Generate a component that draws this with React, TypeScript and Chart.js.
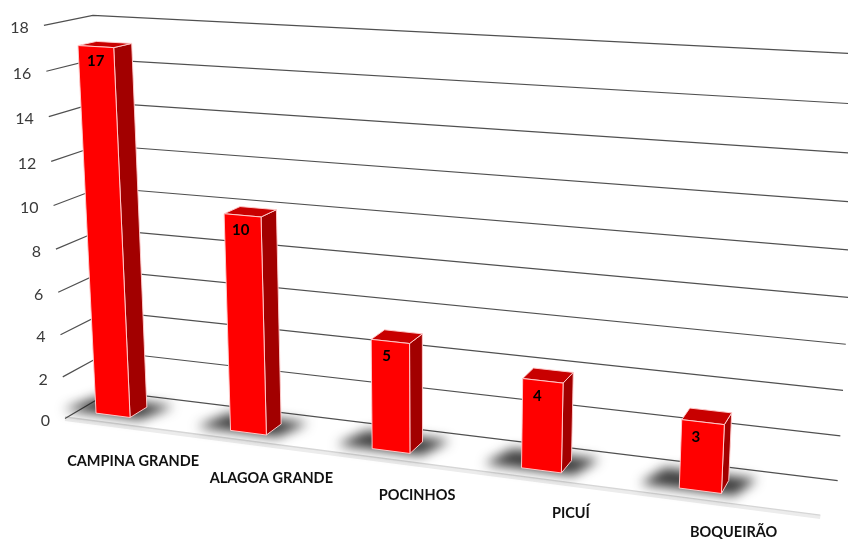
import React, { useEffect, useRef } from 'react';
import { Chart, registerables } from 'chart.js';

Chart.register(...registerables);

// ---- data ----
const categories: string[] = ['CAMPINA GRANDE', 'ALAGOA GRANDE', 'POCINHOS', 'PICUÍ', 'BOQUEIRÃO'];
const values: number[] = [17, 10, 5, 4, 3];
const yMin = 0;
const yMax = 18;
const yStep = 2;

// ---- 3D projection (layout only): world (u = category, v = value, w = depth) -> screen ----
const CAM_X = [129.1, -1.3, 19.3, 113];
const CAM_Y = [6.45, -21.83, -3.2, 415.3];
const CAM_D = [-0.0253, -0.003, 0.0175, 1];
const WALL_LEFT_U = -0.282;
const WALL_RIGHT_U = 4.76;
const FLOOR_FRONT_W = -0.613;
const WALL_BACK_W = 2;
const BAR_DEPTH = 1;

function proj(u: number, v: number, w: number): [number, number] {
  const d = CAM_D[0] * u + CAM_D[1] * v + CAM_D[2] * w + CAM_D[3];
  const x = (CAM_X[0] * u + CAM_X[1] * v + CAM_X[2] * w + CAM_X[3]) / d;
  const y = (CAM_Y[0] * u + CAM_Y[1] * v + CAM_Y[2] * w + CAM_Y[3]) / d;
  return [x, y];
}

function poly(ctx: CanvasRenderingContext2D, pts: [number, number][]) {
  ctx.beginPath();
  pts.forEach((p, i) => (i === 0 ? ctx.moveTo(p[0], p[1]) : ctx.lineTo(p[0], p[1])));
  ctx.closePath();
}

const perspectivePlugin = {
  id: 'perspective3d',
  beforeDatasetsDraw(chart: any) {
    const ctx: CanvasRenderingContext2D = chart.ctx;
    const xs = chart.scales.x;
    const ys = chart.scales.y;
    const x0 = xs.getPixelForValue(0);
    const stepPx = xs.getPixelForValue(1) - x0;
    const toU = (px: number) => (px - x0) / stepPx;
    const toV = (py: number) => ys.getValueForPixel(py);

    ctx.save();

    // floor front edge
    const f0 = proj(WALL_LEFT_U, 0, FLOOR_FRONT_W);
    const f1 = proj(WALL_RIGHT_U - 0.02, 0, FLOOR_FRONT_W);
    ctx.strokeStyle = '#ececec';
    ctx.lineWidth = 4;
    ctx.beginPath();
    ctx.moveTo(f0[0], f0[1] + 2);
    ctx.lineTo(f1[0], f1[1] + 2);
    ctx.stroke();
    ctx.strokeStyle = '#d6d6d6';
    ctx.lineWidth = 1.4;
    ctx.beginPath();
    ctx.moveTo(f0[0], f0[1]);
    ctx.lineTo(f1[0], f1[1]);
    ctx.stroke();

    // gridlines on left wall + back wall, and y tick labels
    let ticks: { value: number }[] = ys.ticks && ys.ticks.length ? ys.ticks : [];
    if (!ticks.length) {
      for (let t = yMin; t <= yMax; t += yStep) ticks.push({ value: t });
    }
    ctx.strokeStyle = '#505050';
    ctx.lineWidth = 1.2;
    ticks.forEach((t) => {
      const v = t.value;
      const a = proj(WALL_LEFT_U, v, FLOOR_FRONT_W);
      const b = proj(WALL_LEFT_U, v, WALL_BACK_W);
      const c = proj(WALL_RIGHT_U, v, WALL_BACK_W);
      ctx.beginPath();
      ctx.moveTo(a[0], a[1] + 1.5);
      ctx.lineTo(b[0], b[1] + 1);
      ctx.lineTo(c[0], c[1]);
      ctx.stroke();
    });
    ctx.fillStyle = '#3a3a3a';
    ctx.font = '16px Lato';
    ctx.textAlign = 'right';
    ctx.textBaseline = 'middle';
    ticks.forEach((t) => {
      const a = proj(WALL_LEFT_U, t.value, FLOOR_FRONT_W);
      ctx.fillText(String(t.value), a[0] - 15, a[1] + 4);
    });

    const meta = chart.getDatasetMeta(0);
    const bars = meta.data.map((el: any) => {
      const u = toU(el.x);
      const h = el.width / stepPx / 2;
      const top = toV(el.y);
      const base = toV(el.base);
      return { u, h, top, base };
    });

    // soft shadows on the floor
    ctx.filter = 'blur(6px)';
    ctx.fillStyle = 'rgba(25,25,25,0.85)';
    bars.forEach((b: any) => {
      poly(ctx, [
        proj(b.u - b.h - 0.24, b.base, -0.05),
        proj(b.u + b.h + 0.08, b.base, -0.05),
        proj(b.u + b.h + 0.16, b.base, BAR_DEPTH + 0.35),
        proj(b.u - b.h - 0.16, b.base, BAR_DEPTH + 0.35),
      ]);
      ctx.fill();
    });
    ctx.filter = 'none';

    // bars
    ctx.lineWidth = 1;
    ctx.strokeStyle = 'rgba(255,205,205,0.95)';
    ctx.lineJoin = 'round';
    bars.forEach((b: any) => {
      const L = b.u - b.h;
      const R = b.u + b.h;
      const side: [number, number][] = [
        proj(R, b.base, 0), proj(R, b.base, BAR_DEPTH), proj(R, b.top, BAR_DEPTH), proj(R, b.top, 0),
      ];
      poly(ctx, side);
      ctx.fillStyle = '#A20000';
      ctx.fill();
      ctx.stroke();
      const topFace: [number, number][] = [
        proj(L, b.top, 0), proj(R, b.top, 0), proj(R, b.top, BAR_DEPTH), proj(L, b.top, BAR_DEPTH),
      ];
      poly(ctx, topFace);
      ctx.fillStyle = '#C80000';
      ctx.fill();
      ctx.stroke();
      const front: [number, number][] = [
        proj(L, b.base, 0), proj(R, b.base, 0), proj(R, b.top, 0), proj(L, b.top, 0),
      ];
      poly(ctx, front);
      ctx.fillStyle = '#FF0000';
      ctx.fill();
      ctx.stroke();
    });

    // data labels
    ctx.fillStyle = '#000000';
    ctx.font = 'bold 15px Lato';
    ctx.textAlign = 'center';
    ctx.textBaseline = 'middle';
    bars.forEach((b: any, i: number) => {
      const p = proj(b.u, b.top, 0);
      ctx.fillText(String(values[i]), p[0] - 1.8 * i, p[1] + 15);
    });

    // category labels
    ctx.fillStyle = '#111111';
    ctx.font = 'bold 14.5px Lato';
    bars.forEach((b: any, i: number) => {
      const p = proj(b.u + 0.23, 0, FLOOR_FRONT_W);
      ctx.fillText(xs.getLabelForValue(i), p[0], p[1] + 36 - 1.9 * i);
    });

    ctx.restore();
    return false;
  },
};

export default function App() {
  const ref = useRef<HTMLCanvasElement | null>(null);
  useEffect(() => {
    if (!ref.current) return;
    const chart = new Chart(ref.current, {
      type: 'bar',
      data: {
        labels: categories,
        datasets: [
          {
            data: values,
            backgroundColor: '#FF0000',
            barPercentage: 0.258,
            categoryPercentage: 1,
          },
        ],
      },
      options: {
        responsive: false,
        devicePixelRatio: 1,
        animation: false,
        events: [],
        plugins: { legend: { display: false }, tooltip: { enabled: false } },
        scales: {
          x: { display: false },
          y: { display: false, min: yMin, max: yMax, ticks: { stepSize: yStep } },
        },
      },
      plugins: [perspectivePlugin],
    } as any);
    return () => chart.destroy();
  }, []);
  return (
    <div style={{ position: 'absolute', left: 0, top: 0, width: 848, height: 542, background: '#fff' }}>
      <canvas ref={ref} width={848} height={542} style={{ display: 'block' }} />
    </div>
  );
}
